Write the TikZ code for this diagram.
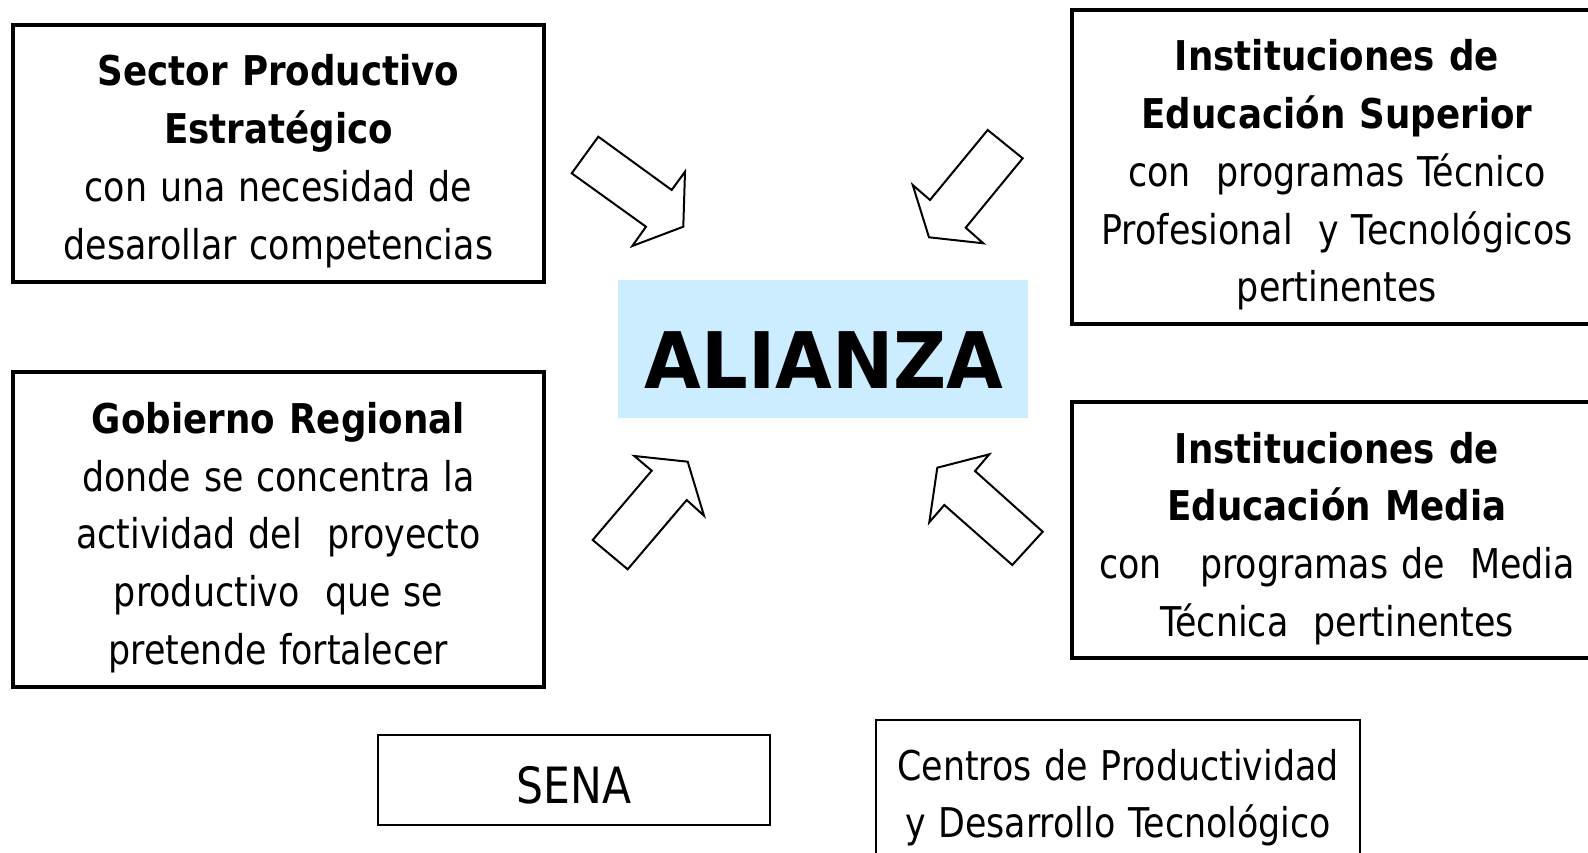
\documentclass[tikz,border=0pt]{standalone}
\usepackage{fontspec}
\setmainfont{DejaVu Sans}[FakeStretch=0.85,WordSpace=1.15,BoldFeatures={FakeStretch=0.87}]
\newfontfamily\alfont{DejaVu Sans}[FakeStretch=0.94]
\definecolor{alblue}{HTML}{CCECFF}
\newcommand\mlines[1]{\begin{tabular}[t]{@{}c@{}}#1\end{tabular}}
\begin{document}
\begin{tikzpicture}[x=1pt,y=-1pt,
  bigbox/.style={draw,line width=4.5pt,inner sep=0pt,outer sep=0pt,anchor=north west},
  smallbox/.style={draw,line width=1.6pt,inner sep=0pt,outer sep=0pt,anchor=north west},
  txt/.style={anchor=base,inner sep=0pt,font=\fontsize{41}{57.7}\selectfont},
  blockarrow/.style={draw,line width=2pt,line join=miter,fill=white}]
\useasboundingbox (0,0) rectangle (1588,853);
\clip (0,0) rectangle (1588,853);
% boxes
\node[bigbox,minimum width=531pt,minimum height=257pt] (sector) at (13,25) {};
\node[bigbox,minimum width=531pt,minimum height=315pt] (gobierno) at (13,372) {};
\node[bigbox,minimum width=540pt,minimum height=314pt] (superior) at (1072,10) {};
\node[bigbox,minimum width=540pt,minimum height=256pt] (media) at (1072,402) {};
\node[smallbox,minimum width=392pt,minimum height=90pt] (sena) at (378,735) {};
\node[smallbox,minimum width=484pt,minimum height=140pt] (centros) at (876,720) {};
\node[fill=alblue,inner sep=0pt,outer sep=0pt,anchor=north west,minimum width=410pt,minimum height=138pt] (alianza) at (618,280) {};
% texts
\node[txt] (tsector) at (278.5,86) {\mlines{\textbf{Sector Productivo}\\ \textbf{Estratégico}\\ con una necesidad de\\ desarollar competencias}};
\node[txt] (tgobierno) at (278.5,433.5) {\mlines{\textbf{Gobierno Regional}\\ donde se concentra la\\ actividad del\ \ proyecto\\ productivo\ \ que se\\ pretende fortalecer}};
\node[txt] (tsuperior) at (1337,71) {\mlines{\textbf{Instituciones de}\\ \textbf{Educación Superior}\\ con\ \ programas Técnico\\ Profesional\ \ y Tecnológicos\\ pertinentes}};
\node[txt] (tmedia) at (1337,463) {\mlines{\textbf{Instituciones de}\\ \textbf{Educación Media}\\ con\ \ \ programas de\ \ Media\\ Técnica\ \ pertinentes}};
\node[txt,font=\fontsize{50}{60}\selectfont] (tsena) at (574,803) {SENA};
\node[txt] (tcentros) at (1118,780) {\mlines{Centros de Productividad\\ y Desarrollo Tecnológico}};
\node[anchor=base,inner sep=0pt,font=\alfont\bfseries\fontsize{78}{80}\selectfont] (talianza) at (824,388) {ALIANZA};
% block arrows
\draw[blockarrow] (598.3,136.7) -- (671.7,190) -- (685,171.7) -- (683.3,226.7) -- (632.3,246) -- (646,226.7) -- (571.7,173.3) -- cycle;
\draw[blockarrow] (987.7,130) -- (1022.7,158.3) -- (965.7,227.7) -- (983.3,243.3) -- (929,237.3) -- (912.7,185) -- (930,200) -- cycle;
\draw[blockarrow] (634.3,456) -- (687.7,461.7) -- (704,515.7) -- (686.7,500) -- (627.7,569.3) -- (592.7,540) -- (651.7,470.7) -- cycle;
\draw[blockarrow] (989.3,454.3) -- (975,471) -- (1042.7,531.7) -- (1012.3,565) -- (944.3,505) -- (929.3,522.3) -- (937.3,467.7) -- cycle;
\end{tikzpicture}
\end{document}
